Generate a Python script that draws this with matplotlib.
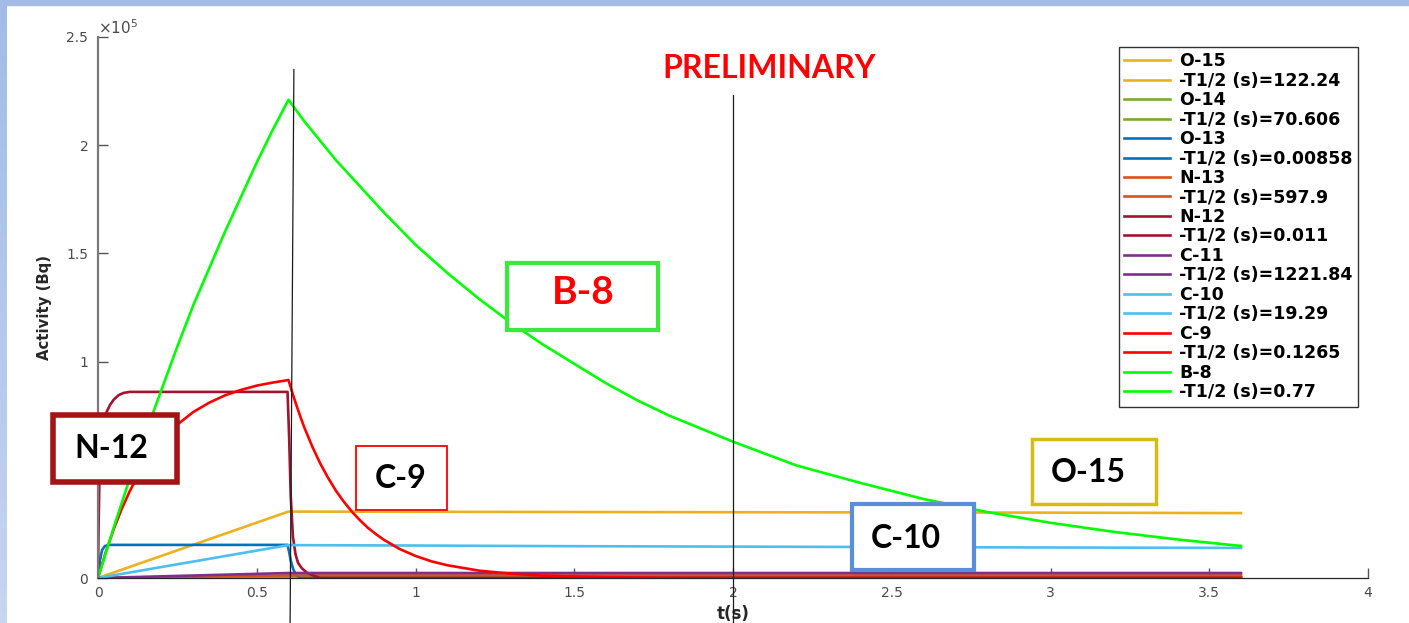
import numpy as np
import matplotlib
matplotlib.use('Agg')
from matplotlib import pyplot as plt
from matplotlib.patches import Rectangle

W, H = 1409, 623

# activities in units of 1e5 Bq
names = ['O-15', 'O-14', 'O-13', 'N-13', 'N-12', 'C-11', 'C-10', 'C-9', 'B-8']
half_lives = ['122.24', '70.606', '0.00858', '597.9', '0.011', '1221.84', '19.29', '0.1265', '0.77']
colors = ['#EDB120', '#77AC30', '#0072BD', '#D95319', '#A2142F', '#7E2F8E', '#4DBEEE', '#FF0000', '#00FF00']

t_slow = [0, 0.6, 1.0, 1.5, 2.0, 2.5, 3.0, 3.6]
o15 = [0, 0.307, 0.306, 0.305, 0.304, 0.303, 0.302, 0.300]
o14 = [0, 0.003, 0.003, 0.003, 0.003, 0.003, 0.003, 0.003]
n13 = [0, 0.012, 0.012, 0.012, 0.012, 0.012, 0.012, 0.012]
c11 = [0, 0.023, 0.023, 0.023, 0.023, 0.023, 0.023, 0.023]
c10 = [0, 0.152, 0.150, 0.147, 0.145, 0.143, 0.141, 0.139]

t_o13 = [0, 0.006, 0.013, 0.022, 0.035, 0.597, 0.602, 0.607, 0.615, 0.625, 0.64, 3.6]
o13 = [0, 0.08, 0.13, 0.148, 0.153, 0.153, 0.12, 0.08, 0.04, 0.012, 0, 0]

t_n12 = [0, 0.002, 0.004, 0.006, 0.009, 0.012, 0.018, 0.028, 0.038, 0.05, 0.065, 0.08, 0.1,
         0.597, 0.602, 0.607, 0.614, 0.622, 0.63, 0.642, 0.658, 0.68, 0.7, 3.6]
n12 = [0, 0.25, 0.42, 0.53, 0.62, 0.68, 0.73, 0.77, 0.80, 0.825, 0.845, 0.855, 0.86,
       0.86, 0.65, 0.38, 0.19, 0.11, 0.07, 0.045, 0.025, 0.01, 0, 0]

t_c9 = [0, 0.025, 0.05, 0.075, 0.1, 0.125, 0.15, 0.2, 0.25, 0.3, 0.35, 0.4, 0.45, 0.5, 0.55, 0.6,
        0.6125, 0.625, 0.6375, 0.65, 0.675, 0.7, 0.725, 0.75, 0.775, 0.8, 0.825, 0.85, 0.875, 0.9,
        0.95, 1.0, 1.05, 1.1, 1.2, 1.3, 1.4, 1.5, 1.6, 1.8, 2.0, 3.6]
c9 = [0, 0.122, 0.228, 0.320, 0.401, 0.471, 0.533, 0.633, 0.709, 0.767, 0.810, 0.844, 0.869, 0.889, 0.903, 0.915,
      0.854, 0.798, 0.745, 0.695, 0.607, 0.529, 0.462, 0.402, 0.351, 0.306, 0.267, 0.232, 0.203, 0.177,
      0.134, 0.102, 0.077, 0.059, 0.034, 0.020, 0.011, 0.007, 0.004, 0.001, 0, 0]

t_b8 = [0, 0.05, 0.1, 0.15, 0.2, 0.25, 0.3, 0.35, 0.4, 0.45, 0.5, 0.55, 0.6,
        0.65, 0.7, 0.75, 0.8, 0.9, 1.0, 1.1, 1.2, 1.3, 1.4, 1.5, 1.6, 1.7, 1.8, 1.9,
        2.0, 2.2, 2.4, 2.6, 2.8, 3.0, 3.2, 3.4, 3.6]
b8 = [0, 0.235, 0.46, 0.67, 0.87, 1.07, 1.26, 1.43, 1.60, 1.76, 1.92, 2.07, 2.21,
      2.11, 2.02, 1.93, 1.85, 1.69, 1.54, 1.41, 1.29, 1.18, 1.08, 0.99, 0.90, 0.82, 0.75, 0.69,
      0.63, 0.52, 0.44, 0.365, 0.305, 0.255, 0.213, 0.178, 0.148]

series = [(t_slow, o15), (t_slow, o14), (t_o13, o13), (t_slow, n13), (t_n12, n12),
          (t_slow, c11), (t_slow, c10), (t_c9, c9), (t_b8, b8)]

x_ticks = [0, 0.5, 1, 1.5, 2, 2.5, 3, 3.5, 4]
x_tick_labels = ['0', '0.5', '1', '1.5', '2', '2.5', '3', '3.5', '4']
y_ticks = [0, 0.5, 1, 1.5, 2, 2.5]
y_tick_labels = ['0', '0.5', '1', '1.5', '2', '2.5']

# markers drawn by hand on the slide: (t top, y top, t bottom, y bottom)
marker_lines = [(0.617, 2.35, 0.605, -0.21), (2.0, 2.23, 2.0, -0.21)]


def fig_box(x0, y0, x1, y1):
    # pixel box with origin at top-left -> figure fraction rectangle
    return x0 / W, 1 - y1 / H, (x1 - x0) / W, (y1 - y0) / H


fig = plt.figure(figsize=(W / 100, H / 100), dpi=100)

# slide border
band = fig.add_axes([0, 0, 7 / W, 1])
band.imshow(np.linspace(0, 1, 50).reshape(-1, 1), aspect='auto',
            cmap=matplotlib.colors.LinearSegmentedColormap.from_list('b', ['#A3BBE6', '#C6D5F0']))
band.axis('off')
fig.add_artist(Rectangle((0, 1 - 5 / H), 1, 5 / H, transform=fig.transFigure,
                         color='#A3BBE6', zorder=5))

ax = fig.add_axes([98 / W, 1 - 578 / H, 1270 / W, 541 / H])
handles, labels = [], []
for (t, a), name, hl, c in zip(series, names, half_lives, colors):
    line, = ax.plot(t, a, color=c, lw=1.9)
    handles += [line, line]
    labels += [name, '-T1/2 (s)=' + hl]

for t0, y0, t1, y1 in marker_lines:
    ax.plot([t0, t1], [y0, y1], color='#1a1a1a', lw=0.9, clip_on=False, zorder=6)

ax.set_xlim(0, 4)
ax.set_ylim(0, 2.5)
ax.set_xticks(x_ticks)
ax.set_xticklabels(x_tick_labels)
ax.set_yticks(y_ticks)
ax.set_yticklabels(y_tick_labels)
ax.set_axisbelow(True)
ax.tick_params(direction='in', length=7, width=1, labelsize=10, labelcolor='#4a4a4a', color='#555555')
ax.tick_params(axis='x', pad=6)
ax.tick_params(axis='y', pad=7)
for s in ['top', 'right']:
    ax.spines[s].set_visible(False)
ax.spines['left'].set_color('#7a7a7a')
ax.spines['left'].set_linewidth(1.6)
ax.spines['bottom'].set_color('#262626')
ax.spines['bottom'].set_linewidth(0.9)

ax.text(0.0, 1.0, r'$\times10^{5}$', transform=ax.transAxes, ha='left', va='bottom',
        fontsize=11, color='#4a4a4a')
ax.set_ylabel('Activity (Bq)', fontsize=10.7, fontweight='bold', color='#262626')
ax.yaxis.set_label_coords(-46 / 1270, 0.5)
ax.set_xlabel('t(s)', fontsize=12, fontweight='bold', color='#262626')
ax.xaxis.set_label_coords(0.5, -27 / 541)

leg = ax.legend(handles, labels, loc='upper right',
                bbox_to_anchor=(1358 / W, 1 - 47 / H), bbox_transform=fig.transFigure,
                prop={'weight': 'bold', 'size': 12.5}, frameon=True, fancybox=False,
                edgecolor='#333333', framealpha=1, borderaxespad=0, borderpad=0.3,
                labelspacing=0.085, handlelength=2.65, handletextpad=0.55)
leg.get_frame().set_linewidth(1)

# labels placed on the slide
boxes = [
    ('B-8', (507, 263, 658, 330), (583, 292), '#3BE83B', 3, '#FF0000', 28),
    ('N-12', (53, 415, 177, 482), (111, 449), '#A31515', 4, 'black', 23),
    ('C-9', (356, 446, 447, 510), (401, 479), '#FF0000', 1.3, 'black', 23),
    ('C-10', (852, 504, 974, 570), (906, 538), '#5B8ED6', 3, 'black', 23),
    ('O-15', (1032, 439, 1156, 504), (1088, 472), '#D4BC14', 2.5, 'black', 23),
]
for text, (x0, y0, x1, y1), (cx, cy), ec, lw, tc, fs in boxes:
    fig.add_artist(Rectangle(fig_box(x0, y0, x1, y1)[:2], (x1 - x0) / W, (y1 - y0) / H,
                             transform=fig.transFigure, facecolor='white', edgecolor=ec,
                             linewidth=lw, zorder=3))
    fig.text(cx / W, 1 - cy / H, text, ha='center', va='center', fontsize=fs,
             fontweight='bold', family='Lato', color=tc, zorder=4)

fig.text(769 / W, 1 - 68 / H, 'PRELIMINARY', ha='center', va='center', fontsize=23,
         fontweight='bold', family='Lato', color='#FF0000', zorder=4)

fig.savefig('out.png', dpi=100)
